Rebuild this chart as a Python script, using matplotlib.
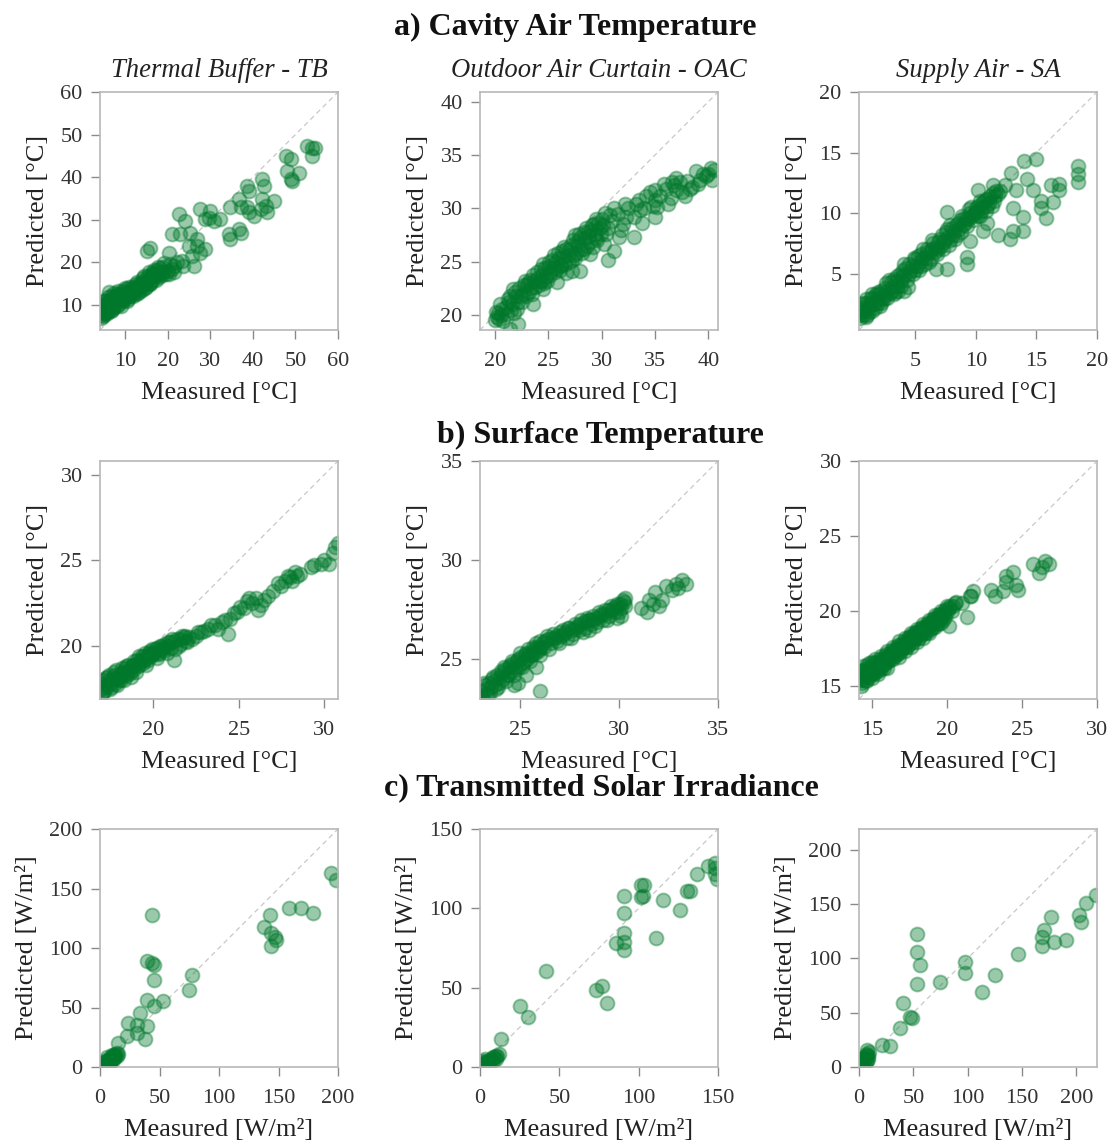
''' Predicted vs measured scatter plots for three facade modes '''

import numpy as np
import matplotlib
matplotlib.use('Agg')
import matplotlib.pyplot as plt

''' a) cavity air temperature, (measured, predicted) in degC '''
tbAir = [(4.3,7.0),(4.5,8.2),(4.6,9.5),(4.8,7.5),(5.0,10.2),(5.2,8.0),(5.5,9.0),(5.8,10.5),
         (6.0,8.3),(6.3,11.2),(6.5,9.2),(6.1,13.0),(7.0,10.0),(7.2,11.8),(7.5,9.5),(8.0,11.0),
         (8.2,12.5),(8.5,10.2),(9.0,11.8),(9.3,13.2),(9.5,10.8),(10.0,12.2),(10.3,13.8),(10.6,11.3),
         (11.0,12.8),(11.5,14.2),(11.8,12.0),(12.0,13.5),(12.5,14.8),(13.0,12.8),(13.3,14.2),
         (13.8,15.2),(14.0,13.5),(14.5,15.8),(15.0,14.3),(15.3,16.8),(15.8,15.2),(16.2,17.5),
         (16.5,15.8),(17.0,16.8),(17.5,18.2),(18.0,16.5),(18.3,17.8),(19.0,18.8),(19.5,17.2),
         (20.0,18.0),(21.0,18.5),(4.2,8.8),(4.4,10.0),(4.7,11.0),(5.3,10.8),(5.6,7.8),(6.0,11.8),
         (6.2,9.8),(6.8,12.2),(6.9,8.8),(7.4,12.8),(7.8,10.8),(8.4,13.3),(8.8,11.5),(9.0,9.8),
         (9.6,12.5),(9.9,14.0),(10.4,11.0),(10.8,14.3),(11.2,12.2),(11.4,13.5),(12.2,14.0),
         (12.6,12.6),(12.9,15.3),(13.5,13.2),(14.2,16.2),(14.6,14.0),(15.6,17.8),(15.9,14.8),
         (16.8,18.3),(17.2,15.8),(17.8,19.0),(18.6,17.0),(19.2,19.8),(20.3,17.3),(20.5,19.5),
         (21.5,17.8),(4.5,7.6),(4.9,8.8),(5.1,9.5),(5.4,8.4),(5.7,9.8),(6.4,10.2),(6.6,8.6),
         (7.1,9.2),(7.6,11.2),(7.9,12.0),(8.1,9.8),(8.6,11.8),(9.1,12.6),(9.4,11.2),(9.8,11.6),
         (10.2,12.8),(10.7,12.0),(11.1,13.6),(11.6,12.8),(12.1,12.8),(12.4,13.8),(12.8,14.2),
         (13.2,15.0),(13.6,14.0),(14.1,14.8),(14.4,16.8),(14.8,15.2),(15.2,15.6),(15.5,14.8),
         (16.0,16.5),(16.4,17.0),(16.9,17.6),(17.3,17.2),(17.7,17.0),(18.2,18.6),(18.8,17.8),
         (15.1,22.6),(15.9,23.3),(22.6,31.3),(24.1,29.7),(20.2,22.3),
         (21.0,26.6),(23.0,26.6),(25.3,27.0),(26.9,25.4),(24.9,23.9),(26.9,23.9),(27.7,22.3),
         (28.8,23.1),(25.7,21.5),(23.3,20.4),(21.4,19.2),(22.2,20.0),(23.7,19.2),(26.1,19.2),
         (27.7,32.5),(30.0,32.1),(28.8,30.1),(30.8,29.7),(32.4,30.1),(29.6,30.5),(34.7,32.9),
         (34.3,26.6),(34.7,25.4),(36.7,27.8),(37.1,27.0),(36.7,34.8),(37.1,32.9),(38.6,32.9),
         (39.0,31.7),(40.2,30.9),(38.6,37.9),(39.0,36.8),(42.2,39.5),(42.6,37.9),(42.2,34.8),
         (43.0,33.2),(43.4,31.7),(41.8,32.5),(44.9,34.4),(47.7,44.9),(48.9,44.2),(48.1,41.4),
         (48.9,39.5),(49.2,39.1),(50.8,41.0),(52.8,47.3),(54.0,46.9),(54.7,46.9),(54.0,44.9)]

oacAir = [(20.0,19.5),(20.3,20.2),(20.6,20.0),(21.0,20.8),(21.2,21.5),(21.5,20.5),(22.0,21.8),
          (22.3,22.5),(22.5,21.2),(23.0,22.8),(23.3,23.3),(23.5,22.0),(24.0,23.5),(24.3,24.3),
          (24.6,23.0),(25.0,24.5),(25.3,25.2),(25.6,24.0),(26.0,25.3),(26.3,26.0),(26.6,24.8),
          (27.0,26.2),(27.3,27.0),(27.6,25.8),(28.0,27.2),(28.3,27.8),(28.6,26.5),(29.0,28.0),
          (29.3,28.5),(29.6,27.0),(30.0,29.0),(30.3,29.6),(30.6,28.2),(31.0,28.8),(31.5,29.5),
          (32.0,28.5),(32.5,30.0),(33.0,29.2),(33.5,30.8),(34.0,30.0),(34.5,31.5),(35.0,30.8),
          (36.0,31.8),(36.5,31.0),(37.0,32.8),(37.5,31.5),(38.5,32.0),(39.5,33.2),(40.2,33.8),
          (20.2,19.8),(20.5,21.0),(20.8,19.4),(21.3,21.2),(21.7,22.4),(21.8,20.2),(22.2,21.2),
          (22.6,22.0),(22.8,23.2),(23.2,22.2),(23.6,23.8),(23.8,22.6),(24.2,23.2),(24.5,24.8),
          (24.8,23.6),(25.2,24.0),(25.5,25.6),(25.8,24.4),(26.2,24.6),(26.5,26.4),(26.8,25.6),
          (27.2,25.2),(27.5,27.5),(27.8,26.6),(28.2,25.8),(28.5,28.2),(28.8,27.4),(29.2,26.4),
          (29.5,29.0),(29.8,28.2),(30.4,27.6),(30.8,29.4),(31.2,30.0),(31.8,28.0),(32.3,29.2),
          (33.2,30.4),(33.8,28.6),(34.8,30.2),(35.5,31.2),(36.2,30.4),(36.8,32.2),(38.0,32.6),
          (39.0,32.3),(40.0,33.2),
          (20.1,20.3),(20.4,19.6),(20.7,20.6),(21.1,20.1),(21.4,21.8),(21.6,21.0),(21.9,22.2),
          (22.1,20.6),(22.4,21.8),(22.7,22.8),(22.9,21.8),(23.1,23.0),(23.4,22.5),(23.7,23.2),
          (23.9,24.0),(24.1,22.8),(24.4,23.8),(24.7,24.4),(24.9,23.2),(25.1,25.0),(25.4,24.4),
          (25.7,25.0),(25.9,25.8),(26.1,24.2),(26.4,25.4),(26.7,26.2),(26.9,25.0),(27.1,26.6),
          (27.4,25.6),(27.7,26.8),(27.9,27.6),(28.1,26.2),(28.4,27.2),(28.7,27.8),(28.9,26.8),
          (29.1,28.4),(29.4,27.6),(29.7,28.6),(29.9,27.6),(30.1,28.4),
          (21.4,18.7),(22.2,19.2),(23.6,21.0),(24.5,22.4),(25.8,23.1),(26.7,23.9),(28.0,24.1),
          (27.2,24.1),(28.9,25.7),(30.6,25.2),(31.2,26.0),(31.6,27.3),(33.0,27.3),(32.2,30.4),
          (33.6,29.8),(35.0,29.2),(35.2,30.1),(34.2,31.2),(35.0,31.7),(35.8,32.3),(36.6,32.5),
          (37.0,31.7),(37.3,32.5),(37.8,31.2),(38.3,31.8),(38.8,33.5),(39.2,32.7),(39.8,33.0),
          (40.5,33.6),(40.3,32.7),(30.2,26.7),(29.5,27.2),(28.3,26.2),(27.5,25.3),(26.2,24.7),
          (25.2,23.8),(24.4,23.2)]

saAir = [(0.4,1.3),(0.6,2.2),(0.8,1.6),(1.0,2.6),(1.2,1.8),(1.5,3.0),(1.7,2.2),(2.0,3.3),
         (2.2,2.6),(2.5,3.8),(2.7,3.0),(3.0,4.3),(3.3,3.5),(3.5,4.8),(3.8,4.0),(4.0,5.3),
         (4.3,4.5),(4.5,5.8),(4.8,5.0),(5.0,6.2),(5.3,5.3),(5.5,6.6),(5.8,5.8),(6.0,7.0),
         (6.3,6.2),(6.5,7.5),(6.8,6.6),(7.0,7.9),(7.3,7.0),(7.5,8.4),(7.8,7.4),(8.0,8.8),
         (8.3,7.9),(8.5,9.2),(8.8,8.4),(9.0,9.6),(9.3,8.9),(9.5,10.0),(9.8,9.4),(10.0,10.4),
         (10.3,9.8),(10.5,10.8),(10.8,10.2),(11.0,11.2),(11.3,10.6),(11.6,11.4),
         (0.5,1.8),(0.7,2.6),(0.9,1.4),(1.1,2.2),(1.3,3.0),(1.4,1.9),(1.8,2.8),(1.9,3.5),
         (2.1,2.3),(2.4,3.2),(2.6,4.2),(2.9,3.4),(3.1,3.9),(3.4,4.4),(3.6,3.6),(3.9,4.8),
         (4.1,5.8),(4.6,5.2),(4.9,6.3),(5.1,5.6),(5.4,6.0),(5.6,7.0),(5.9,6.3),(6.2,6.8),
         (6.4,7.8),(6.7,7.2),(6.9,7.0),(7.2,8.2),(7.4,7.6),(7.7,8.0),(7.9,9.0),(8.2,8.5),
         (8.4,8.2),(8.7,9.4),(8.9,9.0),(9.2,9.5),(9.4,10.3),(9.7,9.8),(9.9,10.0),(10.2,10.6),
         (10.4,10.2),(10.7,11.0),(10.9,10.6),(11.2,11.4),(11.5,11.0),(11.8,11.6),(12.0,11.8),
         (0.45,1.6),(0.55,2.5),(0.75,1.9),(0.95,2.9),(1.05,1.6),(1.25,2.5),(1.45,3.3),(1.6,2.5),
         (1.75,3.3),(1.95,2.6),(2.15,3.6),(2.3,3.0),(2.45,2.9),(2.65,3.6),(2.85,4.5),(3.05,3.6),
         (3.25,4.6),(3.45,4.0),(3.7,5.0),(3.85,4.4),(4.05,4.8),(4.25,5.5),(4.45,5.0),(4.7,5.6),
         (4.95,5.3),(5.2,6.5),(5.45,5.6),(5.65,6.3),(5.95,6.8),(6.15,6.0),(6.35,7.0),(6.6,6.8),
         (6.85,7.6),(7.1,7.3),(7.35,7.8),(7.6,8.7),(7.85,7.8),(8.1,8.2),(8.35,9.0),(8.6,8.7),
         (8.85,9.8),(9.1,9.2),(9.35,9.5),(9.6,10.5),(9.85,9.9),(10.1,10.2),(10.35,11.0),
         (10.6,10.5),(10.85,11.2),(11.1,10.8),(11.4,11.7),
         (4.1,3.6),(4.4,3.9),(3.2,3.3),(6.7,5.4),(7.6,5.4),(9.3,5.8),(9.3,6.4),(9.5,7.7),
         (10.9,9.2),(10.2,9.8),(10.6,8.5),(11.8,8.2),(12.8,7.9),(13.1,8.5),(13.9,8.5),(13.1,10.4),
         (13.9,9.7),(12.4,12.3),(13.3,11.9),(12.9,13.3),(14.0,14.3),(15.0,14.5),(14.2,12.8),
         (14.7,11.9),(15.4,11.0),(15.4,10.4),(15.8,9.6),(16.4,10.9),(16.2,12.3),(16.9,11.9),
         (16.9,12.4),(18.4,13.9),(18.4,13.2),(18.4,12.6),(11.7,11.8),(11.4,12.3),(10.2,11.9),
         (7.6,10.1)]

''' b) surface temperature, (measured, predicted) in degC '''
tbSurf = [(17.0,17.2),(17.1,17.8),(17.3,18.2),(17.5,17.5),(17.7,18.5),(18.0,18.0),(18.2,18.7),
          (18.5,18.3),(18.8,18.9),(19.0,18.5),(19.3,19.2),(19.6,18.9),(19.9,19.5),(20.2,19.3),
          (20.5,19.8),(20.8,19.6),(21.0,20.2),(21.2,19.2),(21.5,20.0),(21.8,20.5),(22.0,20.2),
          (22.3,20.4),(22.5,20.6),(22.8,20.8),(23.4,21.2),(24.4,20.7),(24.0,21.4),(24.7,21.9),
          (25.1,22.3),(25.6,22.8),(26.1,22.1),(26.7,22.9),(27.3,23.7),(27.9,24.1),(28.3,24.3),
          (28.1,23.8),(29.4,24.7),(29.8,24.8),(30.3,24.8),(30.6,25.8),(30.8,26.0),
          (16.95,17.5),(17.0,18.0),(17.2,17.4),(17.4,18.0),(17.6,17.9),(17.8,18.3),(17.9,17.7),
          (18.1,18.4),(18.3,18.0),(18.4,18.8),(18.6,18.6),(18.7,18.2),(18.9,19.1),(19.1,18.8),
          (19.2,19.4),(19.4,19.0),(19.5,19.4),(19.7,19.2),(19.8,19.7),(20.0,19.5),(20.1,19.8),
          (20.3,19.6),(20.4,20.0),(20.6,19.7),(20.7,20.1),(20.9,20.0),(21.1,20.4),(21.3,19.8),
          (21.4,20.4),(21.6,20.1),(21.7,20.6),(21.9,20.3),(22.1,20.5),(22.6,20.8),(23.0,20.9),
          (23.2,21.0),(23.6,21.2),(23.8,21.0),(24.2,21.5),(24.5,21.6),(24.9,22.0),(25.3,22.2),
          (25.5,22.6),(25.8,22.5),(26.0,22.8),(26.3,22.4),(26.5,22.7),(27.0,23.2),(27.5,23.5),
          (27.7,23.8),(28.0,24.0),(28.4,24.1),(28.6,24.2),(29.2,24.6),(30.0,25.0),(30.5,25.4),
          (17.05,17.3),(17.15,17.6),(17.25,18.1),(17.35,17.7),(17.45,18.3),(17.55,17.6),
          (17.65,18.1),(17.75,17.8),(17.85,18.6),(17.95,18.1),(18.05,18.2),(18.15,18.0),
          (18.25,18.5),(18.35,18.7),(18.45,18.4),(18.55,18.9),(18.65,18.4),(18.75,18.8),
          (18.85,18.6),(18.95,18.9),(19.05,19.2),(19.15,18.9),(19.25,19.1),(19.35,19.4),
          (19.45,19.2),(19.55,19.6),(19.65,19.3),(19.75,19.6),(19.85,19.4),(19.95,19.8),
          (20.05,19.6),(20.25,19.9),(20.35,19.5),(20.55,20.0),(20.65,19.9),(20.85,20.2),
          (21.05,19.9),(21.25,20.3),(21.55,20.4),(21.85,20.6)]

oacSurf = [(23.1,23.1),(23.3,23.5),(23.5,23.3),(23.7,23.9),(23.9,23.6),(24.1,24.3),(24.3,23.9),
           (24.5,24.7),(24.7,24.2),(24.9,25.0),(25.1,24.6),(25.3,25.3),(25.5,24.9),(25.7,25.5),
           (26.0,25.2),(26.2,25.8),(26.5,25.5),(26.8,26.1),(27.0,25.8),(27.3,26.4),(27.6,26.1),
           (27.9,26.7),(28.2,26.4),(28.5,27.0),(28.8,26.7),(29.1,27.3),(29.4,27.0),(29.7,27.6),
           (30.0,27.4),(30.2,28.0),(30.3,27.7),
           (23.2,23.8),(23.4,23.2),(23.6,24.0),(23.8,23.5),(24.0,24.1),(24.2,24.6),(24.4,24.2),
           (24.6,24.9),(24.8,24.5),(25.0,25.3),(25.2,24.9),(25.4,25.5),(25.6,25.2),(25.8,25.8),
           (25.9,25.4),(26.1,25.6),(26.3,25.9),(26.4,26.2),(26.6,25.8),(26.7,26.3),(26.9,25.9),
           (27.1,26.2),(27.2,26.5),(27.4,26.1),(27.5,26.6),(27.7,26.3),(27.8,26.8),(28.0,26.5),
           (28.1,27.0),(28.3,26.6),(28.4,27.1),(28.6,26.8),(28.7,27.2),(28.9,26.9),(29.0,27.4),
           (29.2,27.0),(29.3,27.5),(29.5,27.2),(29.6,27.7),(29.8,27.4),(29.9,27.8),(30.1,27.6),
           (30.3,28.1),(29.9,27.1),(24.9,23.8),(25.3,24.2),
           (23.05,23.4),(23.15,23.0),(23.25,23.7),(23.35,23.3),(23.45,23.8),(23.55,23.6),
           (23.65,24.1),(23.75,23.7),(23.85,24.2),(23.95,23.8),(24.05,24.4),(24.15,24.0),
           (24.25,24.5),(24.35,24.2),(24.45,24.6),(24.55,24.4),(24.65,24.8),(24.75,24.6),
           (24.85,24.9),(24.95,24.6),(25.05,25.1),(25.15,24.8),(25.25,25.2),(25.35,25.0),
           (25.45,25.3),(25.55,25.2),(25.65,25.6),(25.75,25.3),(25.85,25.6),(25.95,25.5),
           (26.05,25.9),(26.25,25.6),(26.45,26.0),(26.65,26.1),(26.85,26.2),(27.05,26.4),
           (27.25,26.3),(27.45,26.6),(27.65,26.5),(27.85,26.6),(28.05,26.8),(28.25,26.9),
           (28.45,27.0),(28.65,27.0),(28.85,27.1),(29.05,27.2),(29.25,27.3),(29.45,27.5),
           (29.65,27.5),(29.85,27.7),(30.05,27.8),(30.25,27.9),
           (26.0,23.4),(25.8,24.6),(24.7,23.7),(28.5,26.5),(30.1,27.2),(31.1,27.6),(31.5,28.0),
           (31.8,28.4),(31.7,27.8),(32.0,27.7),(31.4,27.4),(32.4,28.7),(32.9,28.8),(33.2,29.0),
           (33.4,28.8),(32.7,28.5),(33.0,28.6),(32.2,28.0)]

saSurf = [(14.2,15.4),(14.3,16.0),(14.5,15.6),(14.7,16.2),(14.9,15.8),(15.1,16.5),(15.3,16.1),
          (15.5,16.8),(15.7,16.4),(15.9,17.1),(16.1,16.7),(16.3,17.4),(16.5,17.0),(16.7,17.7),
          (16.9,17.3),(17.1,18.0),(17.3,17.6),(17.5,18.3),(17.7,17.9),(17.9,18.6),(18.1,18.2),
          (18.3,18.9),(18.5,18.5),(18.7,19.2),(18.9,18.8),(19.1,19.5),(19.3,19.1),(19.5,19.8),
          (19.7,19.4),(19.9,20.1),(20.2,20.3),(20.5,20.5),
          (14.2,16.0),(14.25,15.0),(14.4,15.4),(14.4,16.3),(14.6,15.9),(14.6,15.3),(14.8,16.5),
          (14.8,15.6),(15.0,16.1),(15.0,15.5),(15.2,16.8),(15.2,15.9),(15.4,16.3),(15.4,15.8),
          (15.6,17.0),(15.6,16.1),(15.8,16.7),(15.8,16.2),(16.0,17.3),(16.0,16.6),(16.2,17.0),
          (16.4,17.6),(16.4,16.8),(16.6,17.3),(16.8,18.0),(16.8,17.2),(17.0,17.6),(17.2,18.2),
          (17.2,17.3),(17.4,17.9),(17.6,18.5),(17.6,17.6),(17.8,18.2),(18.0,18.8),(18.0,17.9),
          (18.2,18.5),(18.4,19.1),(18.4,18.2),(18.6,18.8),(18.8,19.4),(18.8,18.5),(19.0,19.1),
          (19.2,19.7),(19.2,18.9),(19.4,19.4),(19.6,20.0),(19.6,19.2),(19.8,19.7),(20.0,20.3),
          (20.3,20.0),(20.6,20.6),(21.0,20.5),(21.5,21.0),
          (14.15,15.6),(14.3,15.2),(14.35,15.8),(14.5,16.1),(14.55,15.4),(14.65,16.4),
          (14.75,15.8),(14.85,16.0),(14.95,16.6),(15.05,15.8),(15.15,16.2),(15.25,16.6),
          (15.35,16.0),(15.45,16.5),(15.55,16.3),(15.65,16.7),(15.75,16.9),(15.85,16.5),
          (15.95,16.9),(16.05,16.9),(16.15,17.2),(16.25,16.8),(16.35,17.2),(16.45,17.3),
          (16.55,17.5),(16.65,17.1),(16.75,17.5),(16.85,17.7),(16.95,17.5),(17.05,17.8),
          (17.15,17.6),(17.25,17.9),(17.35,18.2),(17.45,17.8),(17.55,18.1),(17.65,18.3),
          (17.75,18.5),(17.85,18.1),(17.95,18.4),(18.05,18.6),(18.15,18.8),(18.25,18.4),
          (18.35,18.6),(18.45,18.9),(18.55,19.0),(18.65,18.6),(18.75,19.0),(18.85,19.2),
          (18.95,19.4),(19.05,18.9),(19.15,19.3),(19.25,19.5),(19.35,19.7),(19.45,19.2),
          (19.55,19.5),(19.65,19.8),(19.75,20.0),(19.85,19.6),(19.95,19.9),(20.1,20.2),(20.4,20.3),
          (16.0,16.2),(16.8,16.9),(20.1,19.0),(21.3,19.6),(21.6,21.0),(21.7,21.3),(22.9,21.4),
          (23.2,21.0),(23.7,21.3),(23.9,22.3),(23.9,21.9),(24.6,21.7),(24.4,22.6),(24.7,21.4),
          (25.7,23.1),(26.1,22.5),(26.3,22.9),(26.5,23.3),(26.8,23.1)]

''' c) transmitted solar irradiance, (measured, predicted) in W/m2 '''
tbSolar = [(3,3),(4,5),(5,4),(6,6),(7,5),(8,7),(9,8),(10,7),(11,9),(12,10),(13,11),(14,12),
           (15,11),(5,2),(8,3),(10,10),(12,8),(6,8),(4,1),(7,2),(9,5),(11,6),(13,8),(14,9),
           (15.5,20),(23.9,36.9),(22.5,25.7),(31,35.5),
           (31,28.5),(33.8,45.3),(39.4,34.1),(38,23.5),(39.4,56.5),(39.4,88.7),(45,85.9),
           (45,73.3),(45,50.9),(52.7,55.1),(43.7,127.8),(74.6,64.9),(77.5,77.5),(43.7,87.3),
           (138,118),(142.5,127.8),(143.9,101.3),(146.8,109.6),(148,107),(143.9,112.4),
           (159,133.4),(169,134),(178.9,129.8),(194.4,162.8),(198.6,157.2)]

oacSolar = [(1,1),(2,2),(3,3),(4,3),(5,4),(6,4),(7,5),(8,6),(9,6),(10,7),(11,7),(12,8),(4,1),
            (6,2),(3,5),(8,4),(10,5),(2,4),
            (13.2,17.4),(24.9,38.6),(30.2,31.2),(41.9,60.3),(72.8,48.8),(77,50.9),
            (80.2,40.3),(85.5,77.9),(90.9,107.6),(90.9,97),(90.9,84.2),(90.9,78.9),(90.9,73.6),
            (101.5,115),(101.5,107.1),(102.6,107.6),(103.6,115),(111,81),(115.3,105.5),(126,99),
            (130.2,110.8),(132.3,110.8),(136.6,121.4),(144,126.7),(148.3,125.6),(148.3,121.4),
            (149.4,118.2),(148.3,128.8)]

saSolar = [(2,1),(3,3),(4,5),(5,2),(5,7),(6,4),(6,9),(7,6),(8,10),(7,12),(9,14),(7,15.9),
           (4,8),(6,11),(3,6),(8,7),
           (20.9,20.5),(28.6,18.9),(37.8,35.7),(40.9,58.6),(47.1,46.4),(48.6,44.9),(53.2,122.7),
           (53.2,106),(56.3,93.7),(53.2,76.3),(74.8,78.5),(97.8,96.8),(97.8,86.7),(113.2,68.7),
           (125.5,84.6),(146.5,103.8),(168.6,119.7),(170,125.8),(168.6,111.5),(176.3,137.7),
           (179.4,114.8),(190.2,116.6),(202.5,139.5),(204,133.4),(208.6,150.8),(217.8,157.9)]

''' axis limits and ticks read from the figure '''
panelData = [tbAir, oacAir, saAir, tbSurf, oacSurf, saSurf, tbSolar, oacSolar, saSolar]
panelLims = [(4.1, 60), (18.6, 40.9), (0.35, 20),
             (16.9, 30.8), (23.0, 35), (14.1, 30),
             (0, 200), (0, 150), (0, 219)]
panelTicks = [[10, 20, 30, 40, 50, 60], [20, 25, 30, 35, 40], [5, 10, 15, 20],
              [20, 25, 30], [25, 30, 35], [15, 20, 25, 30],
              [0, 50, 100, 150, 200], [0, 50, 100, 150], [0, 50, 100, 150, 200]]
rowTitles = ['a) Cavity Air Temperature', 'b) Surface Temperature', 'c) Transmitted Solar Irradiance']
colTitles = ['Thermal Buffer - TB', 'Outdoor Air Curtain - OAC', 'Supply Air - SA']
units = ['[°C]', '[°C]', '[W/m²]']

plt.rcParams['font.family'] = 'Liberation Serif'
W, H = 1113, 1142
green = (0.0, 0.47, 0.17)

def scatterPanel(ax, points, lims, ticks, unit):
    ''' one predicted vs measured panel with a 1:1 line '''
    pts = np.asarray(points, dtype=float)
    ax.axline((lims[0], lims[0]), slope=1, color='#c8c8c8', lw=0.9, ls=(0, (4, 3)), zorder=1)
    ax.scatter(pts[:, 0], pts[:, 1], s=100, facecolor=green + (0.4,),
               edgecolor=green + (0.4,), linewidth=1.4, zorder=2)
    ax.set_xlim(lims)
    ax.set_ylim(lims)
    ax.set_xticks(ticks)
    ax.set_yticks(ticks)
    for side in ax.spines.values():
        side.set_color('#b8b8b8')
        side.set_linewidth(1.2)
    ax.tick_params(direction='out', length=6.5, width=1, color='#8a8a8a',
                   labelsize=16, labelcolor='#333333')
    ax.tick_params(axis='x', pad=9)
    ax.tick_params(axis='y', pad=6)
    ax.set_xlabel('Measured ' + unit, fontsize=19, color='#222222', labelpad=8)
    ax.set_ylabel('Predicted ' + unit, fontsize=19, color='#222222', labelpad=8)

fig = plt.figure(figsize=(W / 100, H / 100), dpi=100)
colLeft = [100, 480, 859]
rowTop = [92, 461, 829]
boxW, boxH = 238, 238

for i in range(9):
    row, col = divmod(i, 3)
    ax = fig.add_axes([colLeft[col] / W, 1 - (rowTop[row] + boxH) / H, boxW / W, boxH / H])
    scatterPanel(ax, panelData[i], panelLims[i], panelTicks[i], units[row])

''' section headings and column names '''
titleBase = [35, 443, 795]
titleCentre = [575, 600, 601]
for row in range(3):
    fig.text(titleCentre[row] / W, 1 - titleBase[row] / H, rowTitles[row], ha='center',
             va='baseline', fontsize=23, fontweight='bold', color='#111111')
for col in range(3):
    fig.text((colLeft[col] + boxW / 2) / W, 1 - 77 / H, colTitles[col], ha='center',
             va='baseline', fontsize=19.2, style='italic', color='#222222')

fig.savefig('out.png', dpi=100)
